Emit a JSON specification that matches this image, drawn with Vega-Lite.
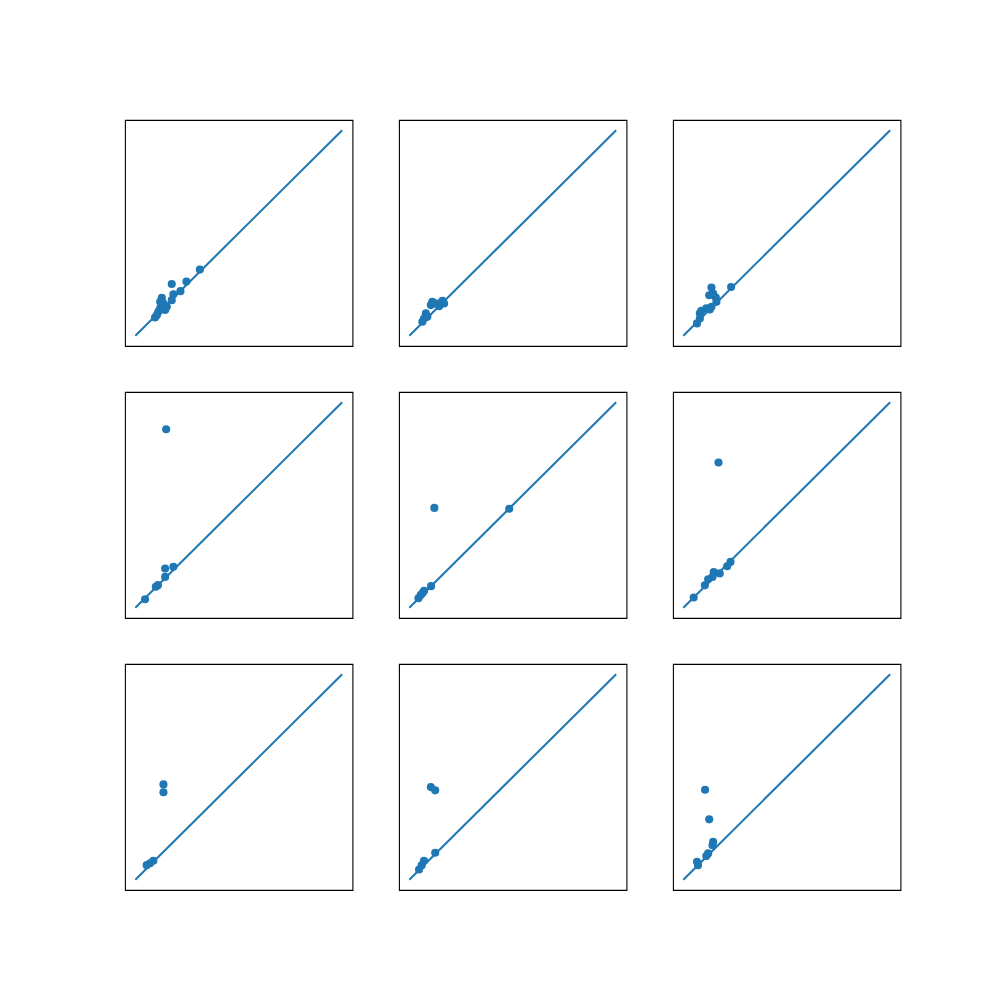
{
  "$schema": "https://vega.github.io/schema/vega-lite/v6.json",
  "padding": {"left": 124, "top": 119, "right": 0, "bottom": 0},
  "background": "white",
  "config": {"view": {"stroke": "black", "strokeWidth": 1.1}, "header": {"labels": false, "title": null, "labelFontSize": 0, "labelPadding": 0, "titlePadding": 0}},
  "data": {"values": [
    {"panel":1,"kind":"line","x":0,"y":0},{"panel":1,"kind":"line","x":100,"y":100},
    {"panel":2,"kind":"line","x":0,"y":0},{"panel":2,"kind":"line","x":100,"y":100},
    {"panel":3,"kind":"line","x":0,"y":0},{"panel":3,"kind":"line","x":100,"y":100},
    {"panel":4,"kind":"line","x":0,"y":0},{"panel":4,"kind":"line","x":100,"y":100},
    {"panel":5,"kind":"line","x":0,"y":0},{"panel":5,"kind":"line","x":100,"y":100},
    {"panel":6,"kind":"line","x":0,"y":0},{"panel":6,"kind":"line","x":100,"y":100},
    {"panel":7,"kind":"line","x":0,"y":0},{"panel":7,"kind":"line","x":100,"y":100},
    {"panel":8,"kind":"line","x":0,"y":0},{"panel":8,"kind":"line","x":100,"y":100},
    {"panel":9,"kind":"line","x":0,"y":0},{"panel":9,"kind":"line","x":100,"y":100},
    {"panel":1,"kind":"pt","x":31.2,"y":32.2},{"panel":1,"kind":"pt","x":24.7,"y":26.4},{"panel":1,"kind":"pt","x":17.6,"y":25.2},{"panel":1,"kind":"pt","x":21.8,"y":21.7},{"panel":1,"kind":"pt","x":18.4,"y":20.2},{"panel":1,"kind":"pt","x":12.8,"y":18.4},{"panel":1,"kind":"pt","x":17.6,"y":17.3},{"panel":1,"kind":"pt","x":13.6,"y":15.7},{"panel":1,"kind":"pt","x":15.2,"y":14.1},{"panel":1,"kind":"pt","x":12.0,"y":13.3},{"panel":1,"kind":"pt","x":11.1,"y":11.6},{"panel":1,"kind":"pt","x":9.5,"y":8.9},{"panel":1,"kind":"pt","x":12.0,"y":16.5},{"panel":1,"kind":"pt","x":14.4,"y":12.5},{"panel":1,"kind":"pt","x":10.4,"y":10.0},
    {"panel":2,"kind":"pt","x":16.0,"y":17.0},{"panel":2,"kind":"pt","x":13.6,"y":15.7},{"panel":2,"kind":"pt","x":11.1,"y":16.5},{"panel":2,"kind":"pt","x":10.4,"y":14.9},{"panel":2,"kind":"pt","x":14.4,"y":14.4},{"panel":2,"kind":"pt","x":8.0,"y":10.9},{"panel":2,"kind":"pt","x":7.1,"y":8.4},{"panel":2,"kind":"pt","x":6.3,"y":6.8},{"panel":2,"kind":"pt","x":8.7,"y":9.2},{"panel":2,"kind":"pt","x":12.0,"y":15.7},{"panel":2,"kind":"pt","x":16.8,"y":15.7},
    {"panel":3,"kind":"pt","x":23.1,"y":23.7},{"panel":3,"kind":"pt","x":13.6,"y":23.5},{"panel":3,"kind":"pt","x":14.4,"y":20.5},{"panel":3,"kind":"pt","x":12.5,"y":19.7},{"panel":3,"kind":"pt","x":15.7,"y":18.6},{"panel":3,"kind":"pt","x":16.0,"y":16.5},{"panel":3,"kind":"pt","x":13.6,"y":14.1},{"panel":3,"kind":"pt","x":11.1,"y":13.3},{"panel":3,"kind":"pt","x":8.7,"y":12.1},{"panel":3,"kind":"pt","x":8.0,"y":10.9},{"panel":3,"kind":"pt","x":6.6,"y":6.0},{"panel":3,"kind":"pt","x":8.0,"y":8.4},{"panel":3,"kind":"pt","x":12.8,"y":12.8},
    {"panel":4,"kind":"pt","x":14.9,"y":86.9},{"panel":4,"kind":"pt","x":18.4,"y":19.9},{"panel":4,"kind":"pt","x":14.4,"y":19.1},{"panel":4,"kind":"pt","x":14.4,"y":15.0},{"panel":4,"kind":"pt","x":10.9,"y":11.0},{"panel":4,"kind":"pt","x":9.9,"y":10.2},{"panel":4,"kind":"pt","x":4.7,"y":4.1},
    {"panel":5,"kind":"pt","x":12.1,"y":48.6},{"panel":5,"kind":"pt","x":48.3,"y":48.2},{"panel":5,"kind":"pt","x":10.5,"y":10.5},{"panel":5,"kind":"pt","x":7.1,"y":8.2},{"panel":5,"kind":"pt","x":5.5,"y":6.2},{"panel":5,"kind":"pt","x":4.4,"y":4.6},{"panel":5,"kind":"pt","x":6.3,"y":7.0},
    {"panel":6,"kind":"pt","x":17.0,"y":70.7},{"panel":6,"kind":"pt","x":22.8,"y":22.3},{"panel":6,"kind":"pt","x":21.2,"y":20.2},{"panel":6,"kind":"pt","x":17.6,"y":16.7},{"panel":6,"kind":"pt","x":14.7,"y":17.4},{"panel":6,"kind":"pt","x":14.1,"y":15.0},{"panel":6,"kind":"pt","x":12.0,"y":13.8},{"panel":6,"kind":"pt","x":10.4,"y":10.9},{"panel":6,"kind":"pt","x":5.0,"y":5.0},
    {"panel":7,"kind":"pt","x":13.6,"y":46.4},{"panel":7,"kind":"pt","x":13.6,"y":42.6},{"panel":7,"kind":"pt","x":8.7,"y":9.2},{"panel":7,"kind":"pt","x":7.1,"y":8.0},{"panel":7,"kind":"pt","x":5.5,"y":7.1},
    {"panel":8,"kind":"pt","x":10.4,"y":45.1},{"panel":8,"kind":"pt","x":12.5,"y":43.5},{"panel":8,"kind":"pt","x":12.5,"y":13.1},{"panel":8,"kind":"pt","x":7.1,"y":9.2},{"panel":8,"kind":"pt","x":6.0,"y":7.1},{"panel":8,"kind":"pt","x":4.7,"y":5.0},
    {"panel":9,"kind":"pt","x":10.5,"y":43.8},{"panel":9,"kind":"pt","x":12.5,"y":29.4},{"panel":9,"kind":"pt","x":14.4,"y":18.4},{"panel":9,"kind":"pt","x":14.1,"y":16.8},{"panel":9,"kind":"pt","x":12.0,"y":12.8},{"panel":9,"kind":"pt","x":11.1,"y":11.5},{"panel":9,"kind":"pt","x":6.6,"y":8.7},{"panel":9,"kind":"pt","x":7.1,"y":7.1}
  ]},
  "facet": {"field": "panel", "type": "ordinal", "header": {"title": null, "labels": false, "labelExpr": "''", "labelPadding": 0, "labelFontSize": 0}},
  "columns": 3,
  "spacing": {"column": 44, "row": 44},
  "spec": {
    "width": 227.5,
    "height": 226,
    "layer": [
      {
        "transform": [{"filter": "datum.kind === 'line'"}],
        "mark": {"type": "line", "color": "#1f77b4", "strokeWidth": 2.08, "clip": true},
        "encoding": {
          "x": {"field": "x", "type": "quantitative", "scale": {"domain": [-5, 105], "nice": false, "zero": false}, "axis": null},
          "y": {"field": "y", "type": "quantitative", "scale": {"domain": [-5, 105], "nice": false, "zero": false}, "axis": null}
        }
      },
      {
        "transform": [{"filter": "datum.kind === 'pt'"}],
        "mark": {"type": "circle", "color": "#1f77b4", "opacity": 1, "size": 66},
        "encoding": {
          "x": {"field": "x", "type": "quantitative", "scale": {"domain": [-5, 105], "nice": false, "zero": false}, "axis": null},
          "y": {"field": "y", "type": "quantitative", "scale": {"domain": [-5, 105], "nice": false, "zero": false}, "axis": null}
        }
      }
    ]
  }
}
